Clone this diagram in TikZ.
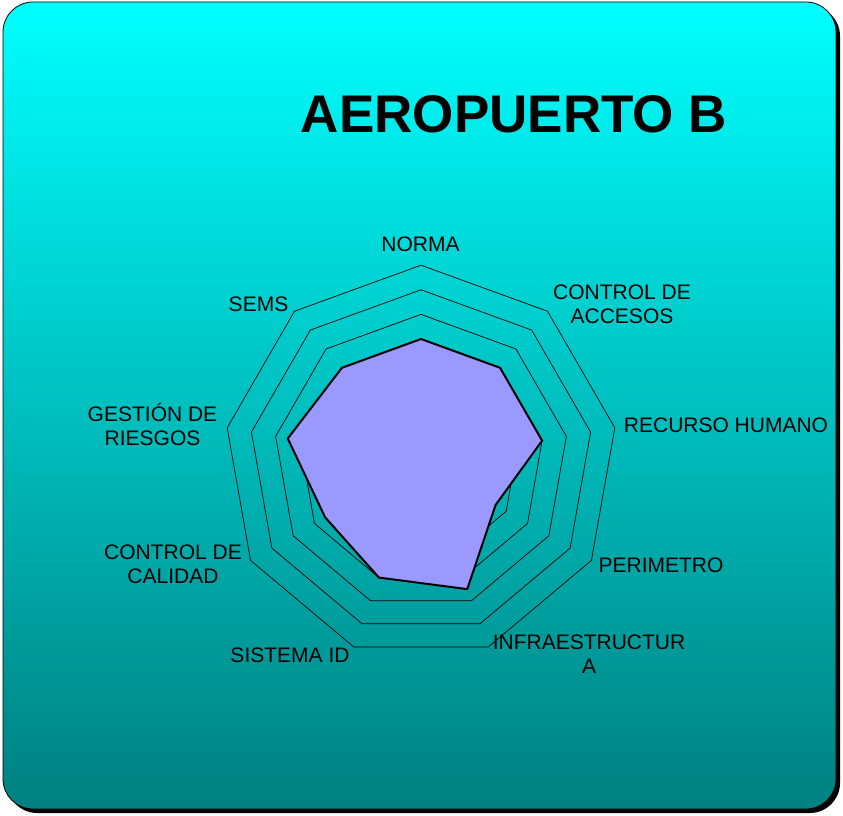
\documentclass[tikz,border=0pt]{standalone}
\usepackage{fontspec}
\setmainfont{Liberation Sans}
\usepackage{tikz}
\usetikzlibrary{positioning,calc}
\definecolor{panetop}{RGB}{0,255,255}
\definecolor{panebottom}{RGB}{0,128,128}
\definecolor{scorefill}{RGB}{153,153,255}

\begin{document}
\begin{tikzpicture}[x=1pt,y=1pt,
    ring/.style={draw=black, line width=0.7pt},
    score/.style={draw=black, fill=scorefill, line width=2pt, line join=miter},
    axislabel/.style={font=\fontsize{21}{24}\selectfont, inner sep=0pt, text height=15pt, text depth=0pt, align=center}]
    \useasboundingbox (0,0) rectangle (843,815);
    \fill[black, rounded corners=30pt] (7,2) rectangle (840,809);
    \shade[top color=panetop, bottom color=panebottom, draw=black, line width=0.8pt, rounded corners=30pt] (3,6) rectangle (836,813);

    \node[font=\fontsize{53}{60}\selectfont\bfseries, inner sep=0pt, text height=38pt, text depth=0pt] (title) at (514,701) {AEROPUERTO B};

    \begin{scope}[shift={(421,353)}, x=24.6pt, y=24.6pt]
    \draw[ring] (90:8) -- (50:8) -- (10:8) -- (-30:8) -- (-70:8) -- (-110:8) -- (-150:8) -- (170:8) -- (130:8) -- cycle;
    \draw[ring] (90:7) -- (50:7) -- (10:7) -- (-30:7) -- (-70:7) -- (-110:7) -- (-150:7) -- (170:7) -- (130:7) -- cycle;
    \draw[ring] (90:6) -- (50:6) -- (10:6) -- (-30:6) -- (-70:6) -- (-110:6) -- (-150:6) -- (170:6) -- (130:6) -- cycle;
    \draw[ring] (90:5) -- (50:5) -- (10:5) -- (-30:5) -- (-70:5) -- (-110:5) -- (-150:5) -- (170:5) -- (130:5) -- cycle;
    \draw[ring] (90:4) -- (50:4) -- (10:4) -- (-30:4) -- (-70:4) -- (-110:4) -- (-150:4) -- (170:4) -- (130:4) -- cycle;

    \coordinate (N) at (90:5);
    \coordinate (CA) at (50:5);
    \coordinate (RH) at (10:5);
    \coordinate (P) at (-30:3.5);
    \coordinate (I) at (-70:5.5);
    \coordinate (SI) at (-110:5);
    \coordinate (CC) at (-150:4.5);
    \coordinate (GR) at (170:5.5);
    \coordinate (S) at (130:5);
    \draw[score] (N) -- (CA) -- (RH) -- (P) -- (I) -- (SI) -- (CC) -- (GR) -- (S) -- cycle;
    \end{scope}

    \node[axislabel] (norma) at (420.5,571) {NORMA};
    \node[axislabel] (accesos) at (622,498.5) {CONTROL DE\\ACCESOS};
    \node[axislabel] (recurso) at (726,390) {RECURSO HUMANO};
    \node[axislabel] (perimetro) at (661,250.5) {PERIMETRO};
    \node[axislabel] (infra) at (589,149.5) {INFRAESTRUCTUR\\A};
    \node[axislabel] (sistema) at (290,160.5) {SISTEMA ID};
    \node[axislabel] (calidad) at (173,239.5) {CONTROL DE\\CALIDAD};
    \node[axislabel] (riesgos) at (152.5,377.5) {GESTIÓN DE\\RIESGOS};
    \node[axislabel] (sems) at (258.5,511) {SEMS};
\end{tikzpicture}
\end{document}
